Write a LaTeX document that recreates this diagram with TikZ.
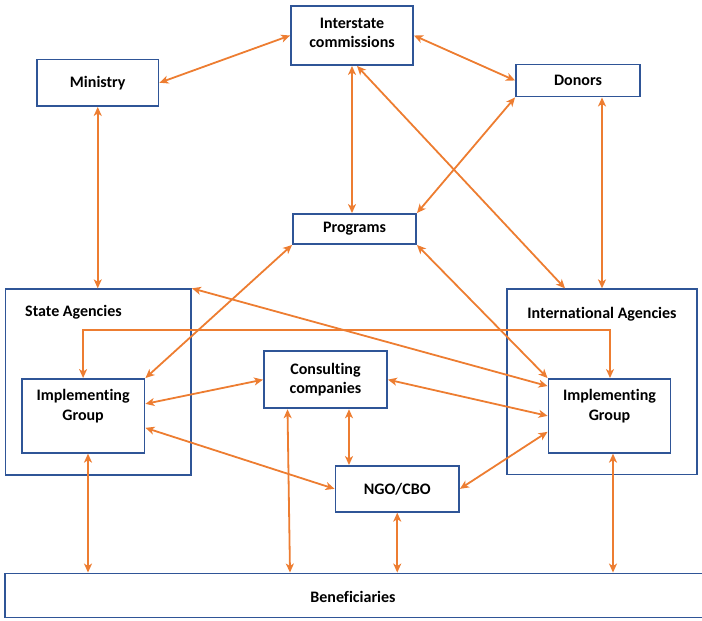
\documentclass[tikz,border=0pt]{standalone}
\usepackage{fontspec}
\setmainfont{Carlito}[Ligatures=NoCommon]
\usetikzlibrary{arrows.meta,calc}
\definecolor{boxblue}{RGB}{47,85,151}
\definecolor{arrorange}{RGB}{237,125,49}
\begin{document}
\begin{tikzpicture}[x=1pt,y=-1pt,
  box/.style={draw=boxblue, line width=1.9pt, rectangle, inner sep=0pt, align=center, font=\bfseries\fontsize{16}{19.5}\selectfont},
  lbl/.style={inner sep=0pt, align=center, font=\bfseries\fontsize{16}{19.5}\selectfont},
  link/.style={draw=arrorange, line width=1.8pt, {Stealth[length=9pt,width=8pt,inset=2.5pt]}-{Stealth[length=9pt,width=8pt,inset=2.5pt]}}]
\useasboundingbox (0,0) rectangle (702,621);
% boxes
\node[box, minimum width=122pt, minimum height=59pt] (inter) at (352,35.5) {};
\node[lbl] (intertext) at (352,33) {Interstate\\commissions};
\node[box, minimum width=121.5pt, minimum height=46.5pt] (ministry) at (97.75,82.75) {Ministry};
\node[box, minimum width=124pt, minimum height=32pt] (donors) at (578,80.5) {Donors};
\node[box, minimum width=123pt, minimum height=30pt] (programs) at (354.5,229) {Programs};
\node[box, minimum width=185.5pt, minimum height=185.7pt] (state) at (98.25,382.15) {};
\node[box, minimum width=190pt, minimum height=185.2pt] (intl) at (602,381.9) {};
\node[lbl, anchor=west] (statelbl) at (25,312) {State Agencies};
\node[lbl] (intllbl) at (602,314) {International Agencies};
\node[box, minimum width=122.8pt, minimum height=73.7pt] (lig) at (83.1,415.85) {};
\node[lbl] (ligtext) at (83.1,406) {Implementing\\Group};
\node[box, minimum width=122pt, minimum height=73.7pt] (rig) at (609.5,415.85) {};
\node[lbl] (rigtext) at (609.5,406) {Implementing\\Group};
\node[box, minimum width=123pt, minimum height=57.3pt] (cons) at (325.5,379.65) {Consulting\\companies};
\node[box, minimum width=123.5pt, minimum height=45.7pt] (ngo) at (397.25,488.85) {NGO/CBO};
\node[box, minimum width=715pt, minimum height=44pt] (benef) at (362.75,595.5) {};
\node[lbl] (beneftext) at (353,597) {Beneficiaries};
% connectors
\draw[link] (ministry.east) -- (inter.west);
\draw[link] (inter.east) -- (donors.west);
\draw[link] (inter.south) -- (inter.south |- programs.north);
\draw[link] ([xshift=5pt]inter.south) -- ([xshift=-37pt]intl.north);
\draw[link] (donors.south west) -- (programs.north east);
\draw[link] (intl.north |- donors.south) -- (intl.north);
\draw[link] (ministry.south) -- (ministry.south |- state.north);
\draw[link] (programs.south west) -- (lig.north east);
\draw[link] (programs.south east) -- (rig.north west);
\draw[link] (state.north east) -- ([yshift=-8pt]rig.north west);
\draw[link] (lig.north) -- ++(0,-48) -| ([xshift=0.5pt]rig.north);
\draw[link] ([yshift=12pt]lig.east) -- (cons.west);
\draw[link] (cons.east) -- (rig.west);
\draw[link] ([yshift=-12pt]lig.east) -- (ngo.west);
\draw[link] ([xshift=23.5pt]cons.south) -- ([xshift=23.5pt]cons.south |- ngo.north);
\draw[link] (ngo.east) -- ([yshift=-16pt]rig.west);
\draw[link] ([xshift=4.9pt]lig.south) -- ([xshift=4.9pt]lig.south |- benef.north);
\draw[link] ([xshift=-38pt]cons.south) -- ($(cons.south |- benef.north)+(-35.5,0)$);
\draw[link] (ngo.south) -- (ngo.south |- benef.north);
\draw[link] ([xshift=3.5pt]rig.south) -- ([xshift=3.5pt]rig.south |- benef.north);
\end{tikzpicture}
\end{document}
